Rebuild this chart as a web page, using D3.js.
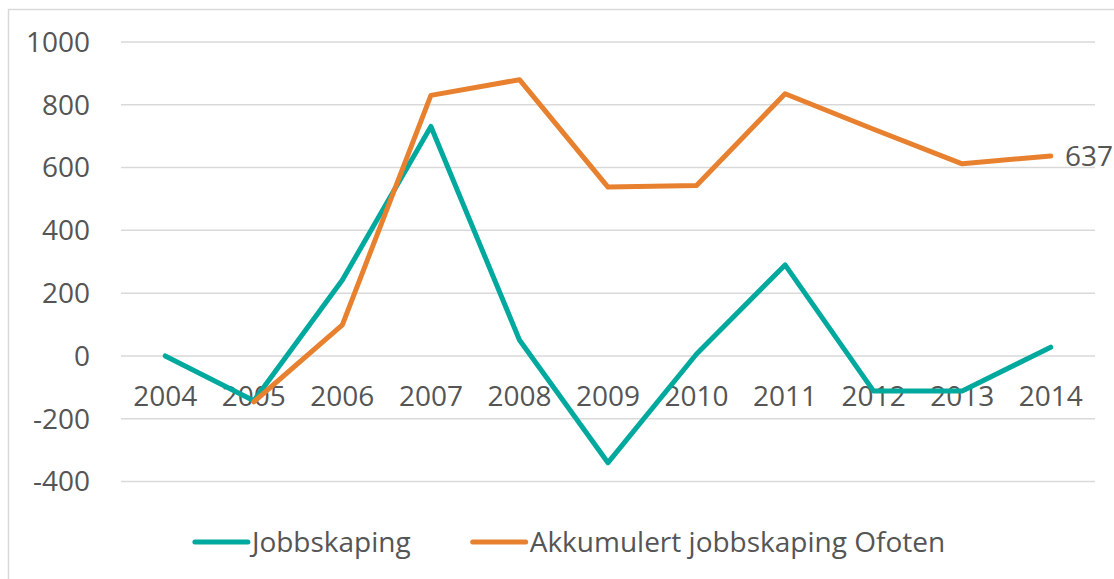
<!DOCTYPE html>
<html>
<head>
<meta charset="utf-8">
<script src="https://cdn.jsdelivr.net/npm/d3@7"></script>
<style>
  body { margin: 0; background: #fff; }
  text { font-family: "Open Sans", "Noto Sans", sans-serif; fill: #555555; }
</style>
</head>
<body>
<div id="chart"></div>
<script>
var years = ["2004","2005","2006","2007","2008","2009","2010","2011","2012","2013","2014"];
var jobbskaping = [0, -143, 242, 731, 51, -340, 6, 290, -112, -112, 28];
var akkumulert = [null, -146, 99, 830, 880, 538, 543, 835, 722, 612, 637];
var yTicks = [-400, -200, 0, 200, 400, 600, 800, 1000];
var seriesNames = ["Jobbskaping", "Akkumulert jobbskaping Ofoten"];
var seriesColors = ["#00a99d", "#e8812f"];

var W = 1114, H = 579;
var FONT = 28;

var svg = d3.select("#chart").append("svg")
    .attr("width", W)
    .attr("height", H);

// chart frame (right/bottom run off the picture)
svg.append("rect")
    .attr("x", 8.5).attr("y", 9.5)
    .attr("width", 1130).attr("height", 600)
    .attr("fill", "none")
    .attr("stroke", "#d9d9d9")
    .attr("stroke-width", 1.5);

var x = d3.scaleBand().domain(years).range([121, 1095]);
var y = d3.scaleLinear().domain([-400, 1000]).range([481.5, 42]);

// gridlines
svg.append("g").selectAll("line").data(yTicks).enter().append("line")
    .attr("x1", x.range()[0]).attr("x2", x.range()[1])
    .attr("y1", function(d){ return y(d); })
    .attr("y2", function(d){ return y(d); })
    .attr("stroke", "#d9d9d9")
    .attr("stroke-width", 1.5);

// y axis labels
svg.append("g").selectAll("text").data(yTicks).enter().append("text")
    .attr("x", 90)
    .attr("y", function(d){ return y(d); })
    .attr("dy", "0.35em")
    .attr("text-anchor", "end")
    .style("font-size", FONT + "px")
    .text(function(d){ return d; });

// category labels sit just below the zero line
svg.append("g").selectAll("text").data(years).enter().append("text")
    .attr("x", function(d){ return x(d) + x.bandwidth() / 2; })
    .attr("y", 406)
    .attr("text-anchor", "middle")
    .style("font-size", FONT + "px")
    .text(function(d){ return d; });

var line = d3.line()
    .defined(function(d){ return d != null; })
    .x(function(d, i){ return x(years[i]) + x.bandwidth() / 2; })
    .y(function(d){ return y(d); });

[jobbskaping, akkumulert].forEach(function(s, k) {
    svg.append("path")
        .datum(s)
        .attr("d", line)
        .attr("fill", "none")
        .attr("stroke", seriesColors[k])
        .attr("stroke-width", 5)
        .attr("stroke-linejoin", "round")
        .attr("stroke-linecap", "round");
});

// data label on the last point of the accumulated series
var last = akkumulert.length - 1;
svg.append("text")
    .attr("x", W - 1)
    .attr("y", y(akkumulert[last]))
    .attr("dy", "0.35em")
    .attr("text-anchor", "end")
    .style("font-size", FONT + "px")
    .text(akkumulert[last]);

// legend
var legend = svg.append("g");
var lx = 0;
seriesNames.forEach(function(name, k) {
    var item = legend.append("g").attr("transform", "translate(" + lx + ",0)");
    item.append("line")
        .attr("x1", 0).attr("x2", 53)
        .attr("y1", 0).attr("y2", 0)
        .attr("stroke", seriesColors[k])
        .attr("stroke-width", 5)
        .attr("stroke-linecap", "round");
    var t = item.append("text")
        .attr("x", 57)
        .attr("dy", "0.35em")
        .style("font-size", FONT + "px")
        .text(name);
    lx += 57 + t.node().getComputedTextLength() + 62;
});
var legendW = lx - 62;
legend.attr("transform", "translate(" + (570 - legendW / 2) + ",542)");
</script>
</body>
</html>
